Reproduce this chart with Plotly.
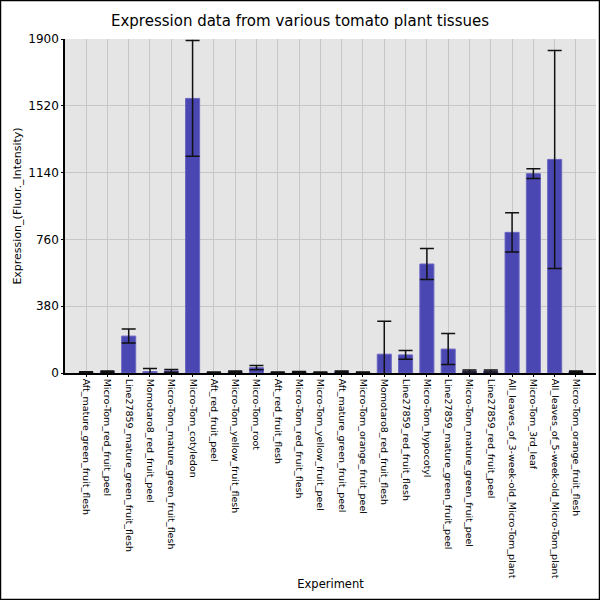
import plotly.graph_objects as go

tissues = [
    'Aft_mature_green_fruit_flesh', 'Micro-Tom_red_fruit_peel',
    'Line27859_mature_green_fruit_flesh', 'Momotaro8_red_fruit_peel',
    'Micro-Tom_mature_green_fruit_flesh', 'Micro-Tom_cotyledon',
    'Aft_red_fruit_peel', 'Micro-Tom_yellow_fruit_flesh', 'Micro-Tom_root',
    'Aft_red_fruit_flesh', 'Micro-Tom_red_fruit_flesh',
    'Micro-Tom_yellow_fruit_peel', 'Aft_mature_green_fruit_peel',
    'Micro-Tom_orange_fruit_peel', 'Momotaro8_red_fruit_flesh',
    'Line27859_red_fruit_flesh', 'Micro-Tom_hypocotyl',
    'Line27859_mature_green_fruit_peel', 'Micro-Tom_mature_green_fruit_peel',
    'Line27859_red_fruit_peel', 'All_leaves_of_3-week-old_Micro-Tom_plant',
    'Micro-Tom_3rd_leaf', 'All_leaves_of_5-week-old_Micro-Tom_plant',
    'Micro-Tom_orange_fruit_flesh',
]
expression = [4, 8, 210, 8, 12, 1562, 3, 7, 30, 4, 6,
              3, 7, 4, 107, 103, 620, 136, 11, 11, 800, 1134, 1215, 7]
std_err = [3, 4, 40, 17, 8, 329, 2, 4, 12, 2, 3,
           2, 4, 2, 188, 25, 88, 88, 6, 6, 112, 28, 620, 4]
y_ticks = [0, 380, 760, 1140, 1520, 1900]

fig = go.Figure()
fig.add_trace(go.Bar(
    x=list(range(len(tissues))), y=expression, width=0.66,
    marker=dict(color='#4a46b2', line=dict(color='#6b67c1', width=1)),
    error_y=dict(type='data', array=std_err, visible=True,
                 color='#111111', thickness=1.5, width=7),
))

fig.update_layout(
    width=600, height=600,
    title=dict(text='Expression data from various tomato plant tissues',
               x=0.5, xanchor='center', y=0.966, yanchor='middle',
               font=dict(size=15, color='black', family='DejaVu Sans')),
    font=dict(family='DejaVu Sans', color='black'),
    plot_bgcolor='#e5e5e5', paper_bgcolor='white',
    margin=dict(l=65, r=4, t=39, b=227, autoexpand=False),
    showlegend=False,
)
fig.update_xaxes(
    tickmode='array', tickvals=list(range(len(tissues))), ticktext=tissues,
    tickangle=90, tickfont=dict(size=9.5), range=[-0.99, 23.94],
    showgrid=True, gridcolor='#c6c6c6', gridwidth=1,
    showline=True, linecolor='black', linewidth=1.5,
    ticks='outside', ticklen=2, tickcolor='black', automargin=False,
    title=dict(text='Experiment', font=dict(size=11.5), standoff=2),
)
fig.update_yaxes(
    tickmode='array', tickvals=y_ticks, range=[0, 1900],
    tickfont=dict(size=12),
    showgrid=True, gridcolor='#c6c6c6', gridwidth=1, zeroline=False,
    showline=True, linecolor='black', linewidth=1.5,
    ticks='outside', ticklen=2, tickcolor='black', automargin=False,
    title=dict(text='Expression_(Fluor._Intensity)', font=dict(size=11), standoff=4),
)
# black frame round the whole picture
fig.add_shape(type='rect', xref='paper', yref='paper',
              x0=-0.1215, x1=1.0066, y0=-0.678, y1=1.1153,
              line=dict(color='black', width=1.5), layer='above')

fig.write_html("out.html", config={'displayModeBar': False},
               post_script="document.body.style.margin='0';")
